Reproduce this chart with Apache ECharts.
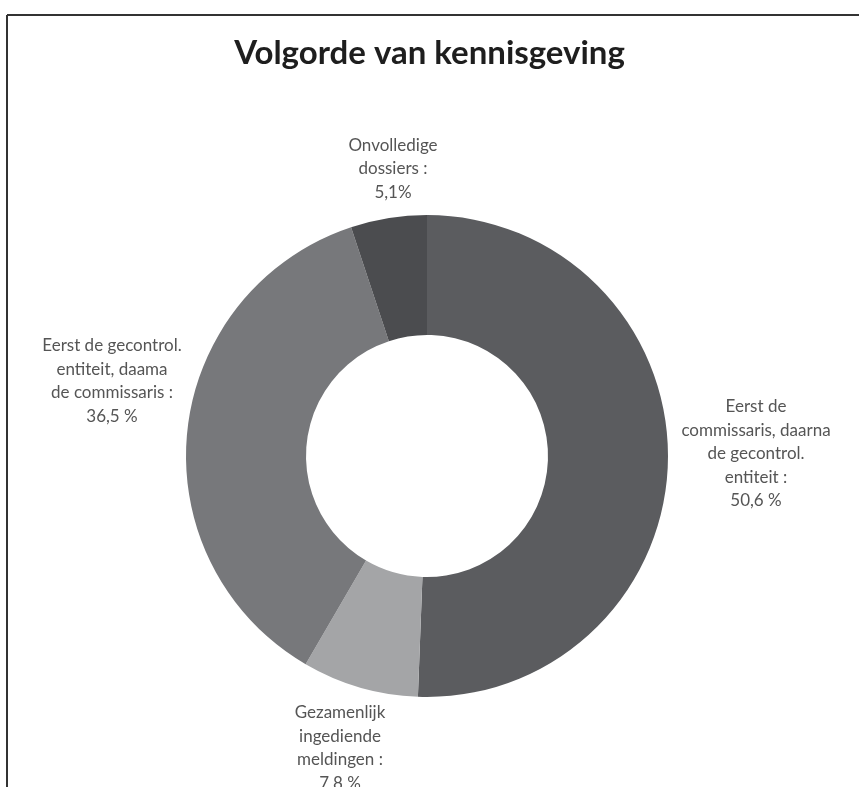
<!DOCTYPE html>
<html>
<head>
<meta charset="utf-8">
<title>Volgorde van kennisgeving</title>
<script src="https://cdn.jsdelivr.net/npm/echarts@6/dist/echarts.min.js"></script>
<style>
    html, body { margin: 0; padding: 0; background: #fff; }
    #chart { width: 859px; height: 787px; }
</style>
</head>
<body>
<div id="chart"></div>
<script>
// data
const categories = [
    'Eerst de commissaris, daarna de gecontrol. entiteit',
    'Gezamenlijk ingediende meldingen',
    'Eerst de gecontrol. entiteit, daama de commissaris',
    'Onvolledige dossiers'
];
const values = [50.6, 7.8, 36.5, 5.1];
const labelTexts = [
    'Eerst de\ncommissaris, daarna\nde gecontrol.\nentiteit :\n50,6 %',
    'Gezamenlijk\ningediende\nmeldingen :\n7,8 %',
    'Eerst de gecontrol.\nentiteit, daama\nde commissaris :\n36,5 %',
    'Onvolledige\ndossiers :\n5,1%'
];

// stijl
const sliceColors = ['#5b5c5f', '#a4a5a7', '#77787b', '#4b4c4f'];
const labelAnchors = [[756, 454], [340, 748], [112, 381], [393, 169]]; // midden van elk label

let myChart = echarts.init(document.getElementById('chart'));

let option = {
    backgroundColor: '#fff',
    title: {
        text: 'Volgorde van kennisgeving',
        left: 'center',
        top: 32,
        textStyle: {
            fontFamily: 'Lato',
            fontSize: 33,
            fontWeight: 'bold',
            color: '#1e1e1e'
        }
    },
    graphic: [
        { // kader boven
            type: 'line',
            shape: { x1: 7, y1: 15, x2: 859, y2: 15 },
            style: { stroke: '#333', lineWidth: 2 }
        },
        { // kader links
            type: 'line',
            shape: { x1: 7, y1: 15, x2: 7, y2: 787 },
            style: { stroke: '#333', lineWidth: 2 }
        }
    ],
    series: [
        {
            type: 'pie',
            center: [427, 456],
            radius: [121, 241],
            startAngle: 90,
            clockwise: true,
            animation: false,
            silent: true,
            itemStyle: { borderWidth: 0 },
            label: {
                show: true,
                position: 'outside',
                align: 'center',
                verticalAlign: 'middle',
                overflow: 'none',
                width: 300,
                fontFamily: 'Lato',
                fontSize: 17,
                lineHeight: 23.5,
                color: '#555',
                formatter: p => labelTexts[p.dataIndex]
            },
            labelLine: { show: false },
            labelLayout: p => ({
                x: labelAnchors[p.dataIndex][0],
                y: labelAnchors[p.dataIndex][1],
                align: 'center',
                verticalAlign: 'middle'
            }),
            data: categories.map((name, i) => ({
                name: name,
                value: values[i],
                itemStyle: { color: sliceColors[i] }
            }))
        }
    ]
};

myChart.setOption(option);
</script>
</body>
</html>
